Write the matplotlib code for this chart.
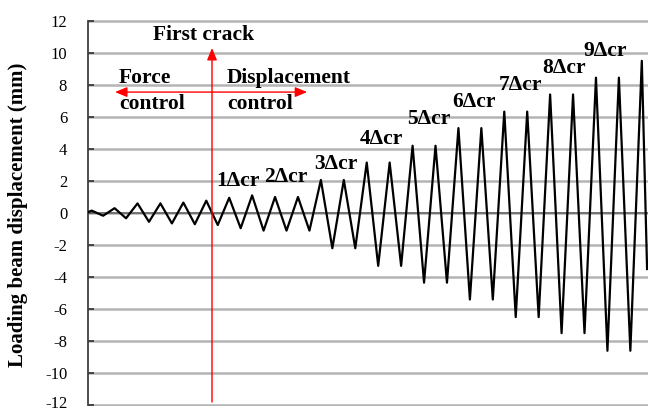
import numpy as np
import matplotlib
matplotlib.use("Agg")
import matplotlib.pyplot as plt
import matplotlib.transforms as mtransforms

plt.rcParams['font.family'] = ['Liberation Serif', 'DejaVu Serif']

# loading history: peaks and troughs of each half cycle (mm)
peaks = [0.15, 0.3, 0.6, 0.6, 0.65, 0.77, 0.95, 1.1, 1.0, 1.0,
         2.06, 2.06, 3.15, 3.15, 4.2, 4.2, 5.3, 5.3, 6.33, 6.33,
         7.4, 7.4, 8.45, 8.45, 9.5]
troughs = [-0.17, -0.33, -0.55, -0.65, -0.7, -0.75, -0.95, -1.1, -1.1, -1.1,
           -2.2, -2.2, -3.3, -3.3, -4.35, -4.35, -5.4, -5.4, -6.5, -6.5,
           -7.5, -7.5, -8.6, -8.6]
start_point = (-0.16, 0.05)
end_point = (24.23, -3.5)

cycle_labels = ["1\u0394cr", "2\u0394cr", "3\u0394cr", "4\u0394cr", "5\u0394cr",
                "6\u0394cr", "7\u0394cr", "8\u0394cr", "9\u0394cr"]
yticks = list(range(-12, 13, 2))

# build the displacement series (one half cycle per 0.5 step)
vals = []
for i, p in enumerate(peaks):
    vals.append(p)
    if i < len(troughs):
        vals.append(troughs[i])
steps = list(np.arange(len(vals)) * 0.5)
x = [start_point[0]] + steps + [end_point[0]]
y = [start_point[1]] + vals + [end_point[1]]

x_lo, x_hi = -0.16, 24.27

fig = plt.figure(figsize=(6.48, 4.12), dpi=100)
ax = fig.add_axes([88 / 648, 1 - 406 / 412, 560 / 648, 386 / 412])

ax.set_xlim(x_lo, x_hi)
ax.set_ylim(-12.05, 12.05)

# horizontal gridlines (excel style)
ax.yaxis.grid(True, color='#b4b4b4', linewidth=1.8)
ax.set_axisbelow(True)

ax.plot(x, y, color='black', linewidth=1.6, zorder=3)
ax.axhline(0, color='#666666', linewidth=1.2, zorder=2.5)

ax.set_yticks(yticks)
ax.set_yticklabels([str(t) for t in yticks])
ax.set_xticks([])
ax.tick_params(axis='y', direction='in', length=4, width=1.2, color='#303030',
               pad=15, labelsize=12)
for s in ['top', 'right', 'bottom']:
    ax.spines[s].set_visible(False)
ax.spines['left'].set_color('#404040')
ax.spines['left'].set_linewidth(1.3)
ax.spines['left'].set_bounds(-12, 12)

# nudge the lowest tick label up so it stays inside the figure
low = ax.get_yticklabels()[0]
low.set_transform(low.get_transform() + mtransforms.ScaledTranslation(0, 2 / 72, fig.dpi_scale_trans))

ax.set_ylabel('Loading beam displacement (mm)', fontsize=15, fontweight='bold')
ax.yaxis.set_label_coords(-0.107, 0.495)

# first crack marker and control regions
ax.annotate('', xy=(5.25, 10.3), xytext=(5.25, -11.8),
            arrowprops=dict(arrowstyle='-|>,head_length=0.6,head_width=0.25',
                            color='red', lw=1.0, shrinkA=0, shrinkB=0,
                            mutation_scale=12), zorder=4)
ax.annotate('', xy=(1.02, 7.55), xytext=(9.4, 7.55),
            arrowprops=dict(arrowstyle='<|-|>,head_length=0.6,head_width=0.25',
                            color='red', lw=1.0, shrinkA=0, shrinkB=0,
                            mutation_scale=12), zorder=4)

bold = dict(fontsize=15.5, fontweight='bold', va='center')
ax.text(4.9, 11.1, 'First crack', ha='center', **bold)
ax.text(1.2, 8.4, 'Force', ha='left', **bold)
ax.text(1.2, 6.8, 'control', ha='left', **bold)
ax.text(5.9, 8.4, 'Displacement', ha='left', **bold)
ax.text(5.9, 6.8, 'control', ha='left', **bold)

label_x = [6.4, 8.48, 10.66, 12.62, 14.7, 16.7, 18.7, 20.63, 22.4]
label_y = [2.0, 2.25, 3.06, 4.6, 5.9, 6.9, 8.0, 9.03, 10.1]
for lab, lx, ly in zip(cycle_labels, label_x, label_y):
    ax.text(lx, ly, lab, ha='center', **bold)

fig.savefig('out.png', dpi=100)
